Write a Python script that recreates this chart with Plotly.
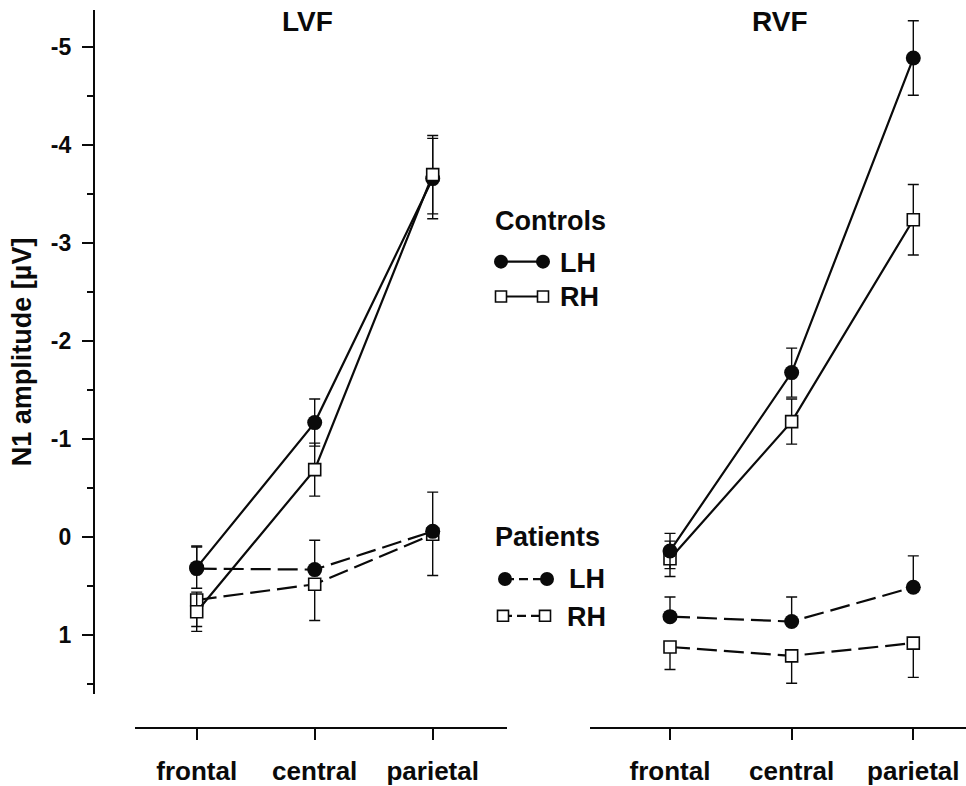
import plotly.graph_objects as go

W, H = 966, 786

# ---------------- data ----------------
categories = ["frontal", "central", "parietal"]
cat_pos = [0, 1, 2]

# LVF
lvf_ctrl_lh = [0.31, -1.17, -3.66]
lvf_ctrl_lh_err = [0.21, 0.24, 0.41]
lvf_ctrl_rh = [0.76, -0.69, -3.70]
lvf_ctrl_rh_err = [0.20, 0.27, 0.40]
lvf_pat_lh = [0.32, 0.33, -0.06]
lvf_pat_lh_err = [0.23, 0.30, 0.40]
lvf_pat_rh = [0.64, 0.48, -0.03]
lvf_pat_rh_err = [0.27, 0.37, 0.42]

# RVF
rvf_ctrl_lh = [0.14, -1.68, -4.89]
rvf_ctrl_lh_err = [0.18, 0.25, 0.38]
rvf_ctrl_rh = [0.22, -1.18, -3.24]
rvf_ctrl_rh_err = [0.18, 0.23, 0.36]
rvf_pat_lh = [0.81, 0.86, 0.51]
rvf_pat_lh_err = [0.20, 0.25, 0.32]
rvf_pat_rh = [1.12, 1.21, 1.08]
rvf_pat_rh_err = [0.23, 0.28, 0.35]

y_tickvals = [-5, -4, -3, -2, -1, 0, 1]
y_ticktext = ["-5", "-4", "-3", "-2", "-1", "0", "1"]
y_minor = [-4.5, -3.5, -2.5, -1.5, -0.5, 0.5, 1.5]

# ---------------- helpers ----------------
def fx(px):
    return px / W

def fy(py):
    return 1 - py / H

FONT = "Liberation Sans"
BLACK = "#0a0a0a"

# y mapping (pixels): 0 at 540, 98.5 px per unit
Y0, YS = 540.0, 98.5
def yval(py):
    return (py - Y0) / YS

y_range = [yval(698), yval(10)]

fig = go.Figure()

def add_series(y, err, xa, ya, symbol, dash, mode_err):
    if symbol == "circle":
        marker = dict(symbol="circle", size=15, color=BLACK, line=dict(width=0))
    else:
        marker = dict(symbol="square", size=12, color="white",
                      line=dict(width=1.6, color=BLACK))
    if mode_err == "both":
        ey = dict(type="data", array=err, symmetric=True, color=BLACK,
                  thickness=1.4, width=5.5)
    elif mode_err == "up":   # visually up = more negative on reversed axis
        ey = dict(type="data", array=[0] * len(err), arrayminus=err,
                  symmetric=False, color=BLACK, thickness=1.4, width=5.5)
    else:                    # visually down
        ey = dict(type="data", array=err, arrayminus=[0] * len(err),
                  symmetric=False, color=BLACK, thickness=1.4, width=5.5)
    fig.add_trace(go.Scatter(
        x=cat_pos, y=y, mode="lines+markers", xaxis=xa, yaxis=ya,
        line=dict(color=BLACK, width=2.2, dash=dash),
        marker=marker, error_y=ey, showlegend=False, cliponaxis=False,
    ))

DASH = "20px,7px"
# LVF
add_series(lvf_pat_rh, lvf_pat_rh_err, "x", "y", "square", DASH, "down")
add_series(lvf_pat_lh, lvf_pat_lh_err, "x", "y", "circle", DASH, "up")
add_series(lvf_ctrl_lh, lvf_ctrl_lh_err, "x", "y", "circle", "solid", "both")
add_series(lvf_ctrl_rh, lvf_ctrl_rh_err, "x", "y", "square", "solid", "both")
# RVF
add_series(rvf_pat_rh, rvf_pat_rh_err, "x2", "y2", "square", DASH, "down")
add_series(rvf_pat_lh, rvf_pat_lh_err, "x2", "y2", "circle", DASH, "up")
add_series(rvf_ctrl_rh, rvf_ctrl_rh_err, "x2", "y2", "square", "solid", "both")
add_series(rvf_ctrl_lh, rvf_ctrl_lh_err, "x2", "y2", "circle", "solid", "both")

# x-axis geometry (pixels)
L_x0, L_step, L_dom = 196.7, 118.0, (135, 507)
R_x0, R_step, R_dom = 670.0, 121.65, (590, 966)
XLINE_Y = 732

def xaxis_cfg(x0, step, dom):
    return dict(
        domain=[fx(dom[0]), fx(dom[1])],
        range=[(dom[0] - x0) / step, (dom[1] - x0) / step],
        tickmode="array", tickvals=cat_pos, ticktext=categories,
        ticks="outside", ticklen=11, tickwidth=2.2, tickcolor=BLACK,
        showline=True, linewidth=2.2, linecolor=BLACK,
        showgrid=False, zeroline=False,
        anchor="free", position=fy(XLINE_Y),
        tickfont=dict(family=FONT, size=26, color=BLACK, weight="bold"),
        ticklabelstandoff=8,
        fixedrange=True,
    )

fig.update_layout(
    width=W, height=H,
    margin=dict(l=0, r=0, t=0, b=0),
    paper_bgcolor="white", plot_bgcolor="white",
    showlegend=False,
    xaxis=xaxis_cfg(L_x0, L_step, L_dom),
    xaxis2=xaxis_cfg(R_x0, R_step, R_dom),
    yaxis=dict(
        domain=[fy(698), fy(10)], range=y_range,
        anchor="free", position=fx(94),
        tickmode="array", tickvals=y_tickvals, ticktext=y_ticktext,
        ticks="outside", ticklen=11, tickwidth=2.2, tickcolor=BLACK,
        minor=dict(tickmode="array", tickvals=y_minor, ticks="outside",
                   ticklen=6, tickwidth=2, tickcolor=BLACK, showgrid=False),
        showline=True, linewidth=2.2, linecolor=BLACK,
        showgrid=False, zeroline=False,
        tickfont=dict(family=FONT, size=23, color=BLACK, weight="bold"),
        ticklabelstandoff=6,
        fixedrange=True,
    ),
    yaxis2=dict(
        domain=[fy(698), fy(10)], range=y_range,
        anchor="free", position=fx(590), visible=False,
        showgrid=False, zeroline=False, fixedrange=True,
    ),
)

annotations = []
def text(x, y, s, size=27, xanchor="left", angle=0):
    annotations.append(dict(
        x=fx(x), y=fy(y), xref="paper", yref="paper", text=s, showarrow=False,
        xanchor=xanchor, yanchor="middle", textangle=angle,
        font=dict(family=FONT, size=size, color=BLACK, weight="bold"),
    ))

text(307, 22, "LVF", size=28, xanchor="center")
text(780, 22, "RVF", size=28, xanchor="center")
text(22, 354, "N1 amplitude [µV]", size=27, xanchor="center", angle=-90)

# legend
text(493, 222, "Controls")
text(558, 264, "LH")
text(558, 299, "RH")
text(493, 540, "Patients")
text(567, 582, "LH")
text(565, 620, "RH")
fig.update_layout(annotations=annotations)

shapes = []
def hline(x0, x1, y, dash="solid"):
    shapes.append(dict(type="line", xref="paper", yref="paper",
                       x0=fx(x0), x1=fx(x1), y0=fy(y), y1=fy(y),
                       line=dict(color=BLACK, width=2.2, dash=dash)))

def circle(cx, cy, d=14):
    shapes.append(dict(type="circle", xref="paper", yref="paper",
                       x0=fx(cx - d / 2), x1=fx(cx + d / 2),
                       y0=fy(cy + d / 2), y1=fy(cy - d / 2),
                       fillcolor=BLACK, line=dict(color=BLACK, width=0)))

def square(cx, cy, s=11):
    shapes.append(dict(type="rect", xref="paper", yref="paper",
                       x0=fx(cx - s / 2), x1=fx(cx + s / 2),
                       y0=fy(cy + s / 2), y1=fy(cy - s / 2),
                       fillcolor="white", line=dict(color=BLACK, width=1.6)))

hline(501, 543, 263)
circle(501, 263); circle(543, 263)
hline(501, 543, 298)
square(501, 298); square(543, 298)
hline(505, 547, 582, dash="9px,5px")
circle(505, 582); circle(547, 582)
hline(503, 545, 619, dash="9px,5px")
square(503, 619); square(545, 619)
fig.update_layout(shapes=shapes)

fig.write_html("out.html")
